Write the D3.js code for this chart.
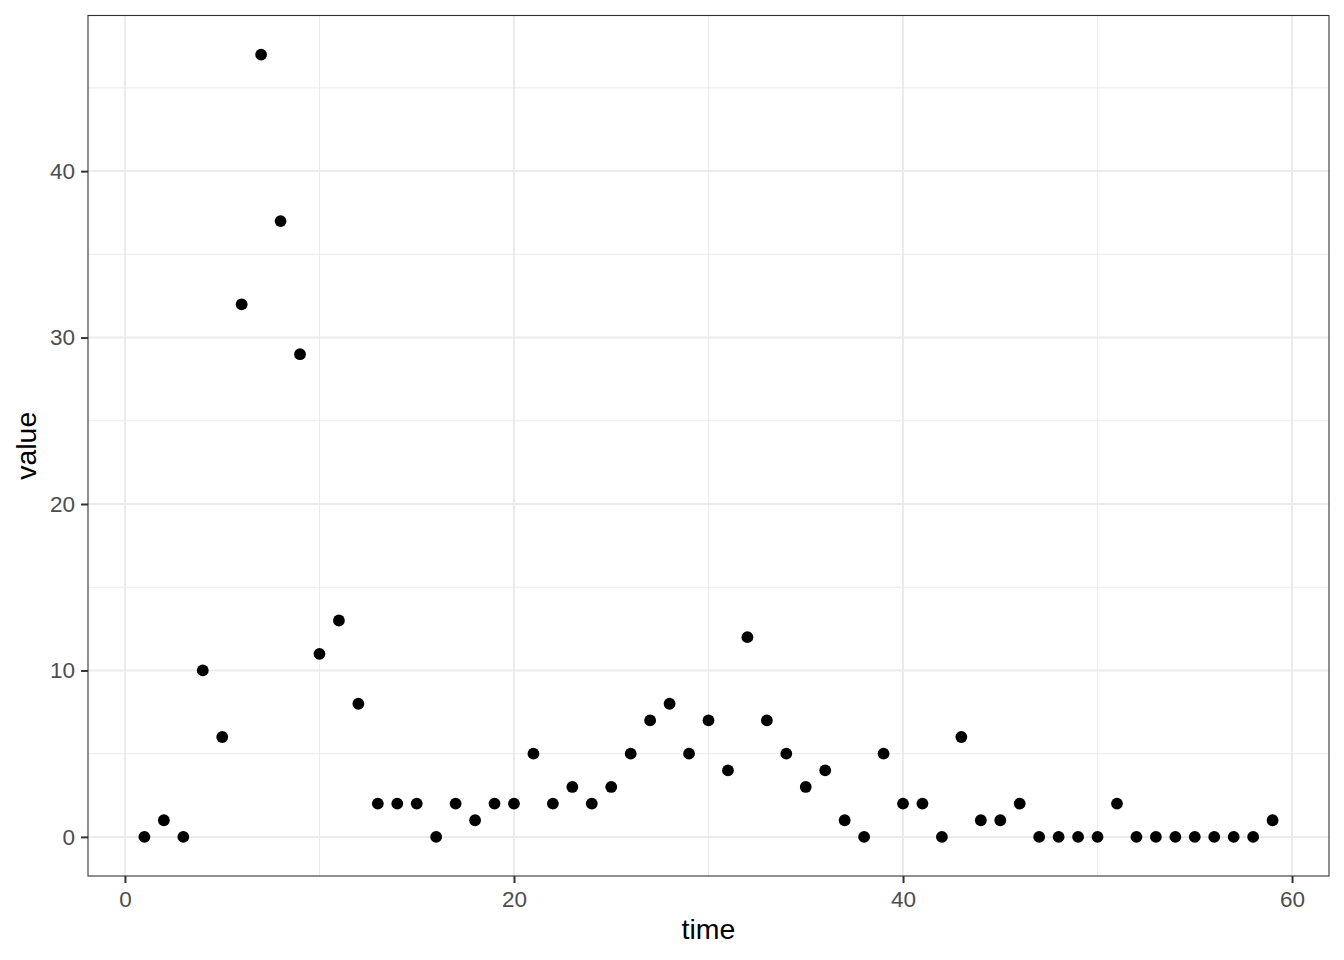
<!DOCTYPE html>
<html>
<head>
<meta charset="utf-8">
<script src="https://cdn.jsdelivr.net/npm/d3@7"></script>
<style>
  body { margin: 0; background: #fff; }
  text { font-family: "Liberation Sans", Arial, sans-serif; }
</style>
</head>
<body>
<div id="my_dataviz"></div>
<script>
// data
var time = d3.range(1, 60);
var values = [0, 1, 0, 10, 6, 32, 47, 37, 29, 11,
              13, 8, 2, 2, 2, 0, 2, 1, 2, 2,
              5, 2, 3, 2, 3, 5, 7, 8, 5, 7,
              4, 12, 7, 5, 3, 4, 1, 0, 5, 2,
              2, 0, 6, 1, 1, 2, 0, 0, 0, 0,
              2, 0, 0, 0, 0, 0, 0, 0, 1];
var xTicks = [0, 20, 40, 60];
var yTicks = [0, 10, 20, 30, 40];
var xMinor = [10, 30, 50];
var yMinor = [5, 15, 25, 35, 45];

var data = time.map(function(t, i) { return {time: t, value: values[i]}; });

var margin = {top: 15.5, right: 15, bottom: 84, left: 88},
    width = 1344 - margin.left - margin.right,
    height = 960 - margin.top - margin.bottom;

var svg = d3.select("#my_dataviz")
  .append("svg")
    .attr("width", 1344)
    .attr("height", 960)
  .append("g")
    .attr("transform", "translate(" + margin.left + "," + margin.top + ")");

// ggplot style 5% expansion
var xr = d3.extent(time), xpad = (xr[1] - xr[0]) * 0.05;
var yr = d3.extent(values), ypad = (yr[1] - yr[0]) * 0.05;

var x = d3.scaleLinear()
  .domain([xr[0] - xpad, xr[1] + xpad])
  .range([0, width]);

var y = d3.scaleLinear()
  .domain([yr[0] - ypad, yr[1] + ypad])
  .range([height, 0]);

// grid lines
svg.append("g").selectAll("line.minx")
  .data(xMinor).enter().append("line")
    .attr("x1", function(d) { return x(d); })
    .attr("x2", function(d) { return x(d); })
    .attr("y1", 0).attr("y2", height)
    .attr("stroke", "#ebebeb").attr("stroke-width", 1);

svg.append("g").selectAll("line.miny")
  .data(yMinor).enter().append("line")
    .attr("y1", function(d) { return y(d); })
    .attr("y2", function(d) { return y(d); })
    .attr("x1", 0).attr("x2", width)
    .attr("stroke", "#ebebeb").attr("stroke-width", 1);

svg.append("g").selectAll("line.majx")
  .data(xTicks).enter().append("line")
    .attr("x1", function(d) { return x(d); })
    .attr("x2", function(d) { return x(d); })
    .attr("y1", 0).attr("y2", height)
    .attr("stroke", "#ebebeb").attr("stroke-width", 2);

svg.append("g").selectAll("line.majy")
  .data(yTicks).enter().append("line")
    .attr("y1", function(d) { return y(d); })
    .attr("y2", function(d) { return y(d); })
    .attr("x1", 0).attr("x2", width)
    .attr("stroke", "#ebebeb").attr("stroke-width", 2);

// points
svg.append("g").selectAll("circle")
  .data(data).enter().append("circle")
    .attr("cx", function(d) { return x(d.time); })
    .attr("cy", function(d) { return y(d.value); })
    .attr("r", 5.9)
    .attr("fill", "#000");

// panel border
svg.append("rect")
  .attr("width", width).attr("height", height)
  .attr("fill", "none")
  .attr("stroke", "#333333").attr("stroke-width", 1.1);

// axes
var xAxis = svg.append("g")
  .attr("transform", "translate(0," + height + ")")
  .call(d3.axisBottom(x).tickValues(xTicks).tickSizeOuter(0).tickSize(7).tickPadding(8.3));

var yAxis = svg.append("g")
  .call(d3.axisLeft(y).tickValues(yTicks).tickSizeOuter(0).tickSize(7).tickPadding(6));

[xAxis, yAxis].forEach(function(g) {
  g.select(".domain").remove();
  g.selectAll(".tick line").attr("stroke", "#333333").attr("stroke-width", 2);
  g.selectAll(".tick text")
    .attr("fill", "#4d4d4d")
    .style("font-size", "22.5px")
    .style("font-family", "'Liberation Sans', Arial, sans-serif");
});

// axis titles
svg.append("text")
  .attr("x", width / 2)
  .attr("y", height + 62.5)
  .attr("text-anchor", "middle")
  .style("font-size", "28.5px")
  .attr("fill", "#000")
  .text("time");

svg.append("text")
  .attr("transform", "rotate(-90)")
  .attr("x", -height / 2)
  .attr("y", -52.5)
  .attr("text-anchor", "middle")
  .style("font-size", "28.5px")
  .attr("fill", "#000")
  .text("value");
</script>
</body>
</html>
